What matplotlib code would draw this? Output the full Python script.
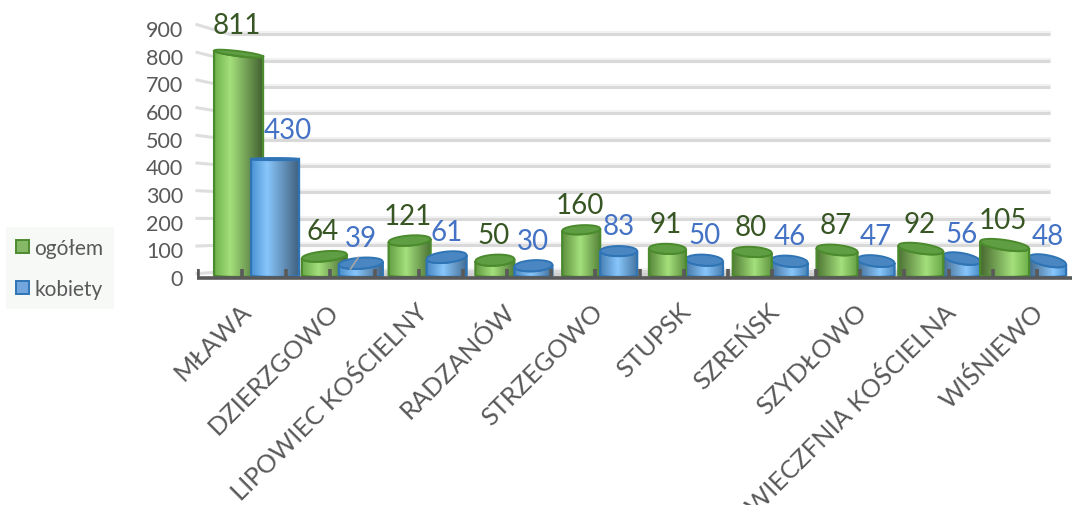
"""Cylinder bar chart: ogółem / kobiety per gmina"""
import numpy as np
import matplotlib
matplotlib.use("Agg")
import matplotlib.pyplot as plt
from matplotlib.colors import LinearSegmentedColormap, to_rgb
from matplotlib.patches import Patch, Polygon
from matplotlib.transforms import ScaledTranslation

plt.rcParams["font.family"] = ["Lato", "DejaVu Sans"]

categories = ["MŁAWA", "DZIERZGOWO", "LIPOWIEC KOŚCIELNY", "RADZANÓW", "STRZEGOWO",
              "STUPSK", "SZREŃSK", "SZYDŁOWO", "WIECZFNIA KOŚCIELNA", "WIŚNIEWO"]
ogolem = [811, 64, 121, 50, 160, 91, 80, 87, 92, 105]
kobiety = [430, 39, 61, 30, 83, 50, 46, 47, 56, 48]
y_ticks = [0, 100, 200, 300, 400, 500, 600, 700, 800, 900]

# perspective look in pixels
green_w = [49, 45, 42, 39, 38, 37, 39, 41, 45, 49]
blue_w = [48, 44, 40, 38, 37, 37, 36, 37, 37, 37]
overlap = [6, 4, 2, 0, 0, 0, 0, 0, 0, 0]
green_tilt = [3, -2, -1.5, -1, -1, 0.5, 1, 2, 3, 3.5]
blue_tilt = [0, -1.5, -2, -1, 0, 1, 1.5, 2, 3, 3.5]
green_semi = [2.5, 5, 5, 5.5, 4.5, 5, 5, 5, 5, 5]
blue_semi = [1, 5.5, 5.5, 5.5, 5, 5.5, 5.5, 5.5, 5.5, 5.5]

W, H = 1072, 506
fig = plt.figure(figsize=(W / 100, H / 100), dpi=100, facecolor="white")
ax = fig.add_axes([197 / W, (H - 278) / H, 875 / W, 249 / H])
ax.set_xlim(-0.7, 9.5)
ax.set_ylim(0, 900)
ax.patch.set_visible(False)
for s in ax.spines.values():
    s.set_visible(False)

px_x = 10.2 / 875    # data units per pixel
px_y = 900 / 249


def back_wall(v):
    return 21 + 0.951 * np.asarray(v, dtype=float)


def draw_cylinder(cx, w_px, value, stops, edge, top_col, tilt_px, semi_px, z):
    half = w_px * px_x / 2
    u = np.linspace(-1, 1, 60)
    semi = semi_px * px_y
    tilt = tilt_px * px_y
    lift = (3 if value < 300 else -1) * px_y
    x = cx + half * u
    top_y = value + lift - tilt * u
    low = 1.5 * px_y * (1 - np.sqrt(1 - u**2))
    # body, from the bottom arc up to the near rim of the top
    body = np.vstack([np.c_[x, low],
                      np.c_[x[::-1], (top_y - semi * np.sqrt(1 - u**2))[::-1]]])
    patch = Polygon(body, closed=True, fc="none", ec=edge, lw=1.6, zorder=z + 0.2)
    ax.add_patch(patch)
    cmap = LinearSegmentedColormap.from_list("cyl", stops)
    img = ax.imshow(np.linspace(0, 1, 128).reshape(1, -1), cmap=cmap, aspect="auto",
                    extent=(cx - half, cx + half, 0, value + semi + 3 * px_y), zorder=z)
    img.set_clip_path(patch)
    ring = np.vstack([np.c_[x, top_y - semi * np.sqrt(1 - u**2)],
                      np.c_[x[::-1], (top_y + semi * np.sqrt(1 - u**2))[::-1]]])
    ax.add_patch(Polygon(ring, closed=True, fc=top_col, ec=edge, lw=1.4, zorder=z + 0.3))


def mix(a, b, t):
    a, b = np.array(to_rgb(a)), np.array(to_rgb(b))
    return tuple(a + (b - a) * t)


# walls and floor
ax.fill_between([-0.32, 9.24], [0, 0], [back_wall(0)] * 2, color="#cfcfcf", zorder=1, lw=0)
for v in y_ticks:
    ax.plot([-0.315, 9.24], [back_wall(v)] * 2, color="#d9d9d9", lw=2.2, zorder=1,
            solid_capstyle="butt", clip_on=False)
    ax.plot([-0.315, 9.24], [back_wall(v) + 7] * 2, color="#f2f2f2", lw=1.5, zorder=0.9,
            clip_on=False)
    ax.plot([-0.7, -0.315], [v + 12, back_wall(v)], color="#dedede", lw=2.2, zorder=1,
            clip_on=False)

ax.set_yticks(y_ticks)
ax.tick_params(axis="y", length=0, pad=10, labelsize=15.5, labelcolor="#595959")

for i, name in enumerate(categories):
    t = i / 9
    hp = 0.33 + 0.34 * t
    gw, bw, ov = green_w[i], blue_w[i], overlap[i]
    gx = i + (ov - gw / 2) * px_x
    bx = i + (bw / 2 - ov) * px_x
    g_stops = [(0, mix("#6fb04a", "#47682f", t)), (hp, "#a4e07c"),
               (1, mix("#42602e", "#6fb04a", t))]
    b_stops = [(0, mix("#4a92d2", "#46688a", t)), (hp, "#88c6fb"),
               (1, mix("#42617f", "#4a92d2", t))]
    front_blue = i <= 4
    draw_cylinder(gx, gw, ogolem[i], g_stops, "#4c8a2e", "#5f9e42", green_tilt[i], green_semi[i],
                  10 + i * 2 + (0 if front_blue else 1))
    draw_cylinder(bx, bw, kobiety[i], b_stops, "#2f74b5", "#4a87c2", blue_tilt[i], blue_semi[i],
                  10 + i * 2 + (1 if front_blue else 0))

    ax.annotate(str(ogolem[i]), (gx, ogolem[i]), xytext=(-1, 28 * 0.72), textcoords="offset points",
                ha="center", va="center", fontsize=20, color="#375623", zorder=50,
                annotation_clip=False)
    nudge = 13 if kobiety[i] == 430 else 0
    ax.annotate(str(kobiety[i]), (bx, kobiety[i]), xytext=(nudge * 0.72, 28 * 0.72),
                textcoords="offset points", ha="center", va="center", fontsize=20,
                color="#4472c4", zorder=50, annotation_clip=False)

# leader line of the 39 label
ax.plot([1.09, 1.18], [kobiety[1] - 10, kobiety[1] + 32], color="#a6a6a6", lw=1.2, zorder=40)

# axis line and ticks
ax.plot([-0.7, 9.5], [-3, -3], color="#595959", lw=2.6, zorder=45, clip_on=False,
        solid_capstyle="butt")
tick_x = np.linspace(-0.688, 9.09, 20)
ax.vlines(tick_x, 0, 28, color="#595959", lw=2.6, zorder=46)

ax.set_xticks(range(len(categories)))
ax.set_xticklabels(categories, rotation=45, ha="right", va="top", rotation_mode="anchor",
                   fontsize=18.3, color="#595959")
ax.tick_params(axis="x", length=0, pad=18)
# label spacing in the picture is a bit wider than the bar spacing
for i, lab in enumerate(ax.get_xticklabels()):
    shift = ScaledTranslation((-18 + 2.2 * i) / 100, 0.03, fig.dpi_scale_trans)
    lab.set_transform(lab.get_transform() + shift)

handles = [Patch(fc="#85b968", ec="#4c8a2e", lw=1.4, label="ogółem"),
           Patch(fc="#73a6dc", ec="#2f74b5", lw=1.4, label="kobiety")]
fig.legend(handles=handles, loc="lower left", bbox_to_anchor=(6 / W, (H - 310) / H),
           frameon=True, facecolor="#f7f9f7", edgecolor="none", fancybox=False, framealpha=1,
           fontsize=15, labelcolor="#595959", handlelength=0.62, handleheight=0.62,
           handletextpad=0.25, labelspacing=1.0, borderpad=0.5, borderaxespad=0)

fig.savefig("out.png", dpi=100, facecolor="white")
plt.close(fig)
